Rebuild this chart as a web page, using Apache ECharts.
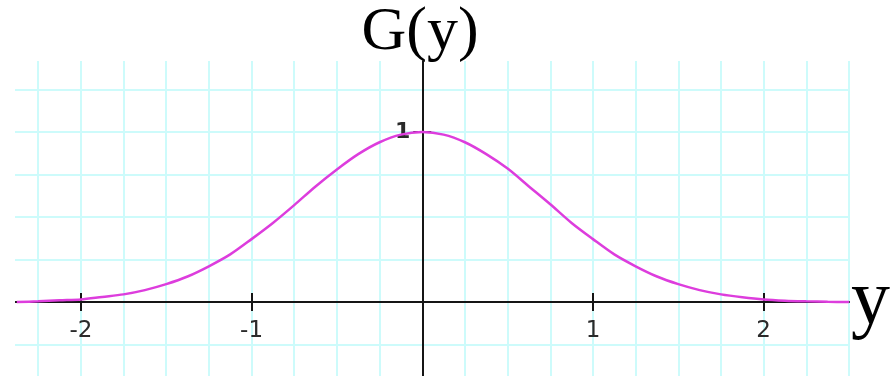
<!DOCTYPE html>
<html>
<head>
<meta charset="utf-8">
<script src="https://cdn.jsdelivr.net/npm/echarts@6/dist/echarts.min.js"></script>
<style>
  html, body { margin: 0; padding: 0; background: #fff; }
  #chart { width: 892px; height: 376px; }
</style>
</head>
<body>
<div id="chart"></div>
<script>
// y positions and G(y) values
const yValues = [-2.375, -2.25, -2.125, -2, -1.875, -1.75, -1.625, -1.5, -1.375, -1.25, -1.125, -1,
  -0.875, -0.75, -0.625, -0.5, -0.375, -0.25, -0.125, 0,
  0.125, 0.25, 0.375, 0.5, 0.625, 0.75, 0.875, 1, 1.125, 1.25, 1.375, 1.5,
  1.625, 1.75, 1.875, 2, 2.125, 2.25, 2.375, 2.5];
const gValues = [0, 0.004, 0.01, 0.015, 0.03, 0.045, 0.07, 0.105, 0.15, 0.21, 0.28, 0.37,
  0.465, 0.57, 0.68, 0.78, 0.87, 0.94, 0.985, 1,
  0.985, 0.94, 0.87, 0.785, 0.68, 0.575, 0.465, 0.37, 0.28, 0.21, 0.15, 0.105,
  0.07, 0.045, 0.028, 0.015, 0.008, 0.004, 0.001, 0];
const xTicks = [-2, -1, 1, 2];
const yTicks = [1];

const axisColor = "#151515";
const gridColor = "#cdfbfb";
const labelFont = { fontFamily: "DejaVu Sans", fontSize: 23, color: "#2a2a2a" };

const chart = echarts.init(document.getElementById("chart"), null, { renderer: "canvas" });

// plot rect: y=-2.5..2.5 across, G=-0.5..1.418 down; x axis sits where G=0, y axis where y=0
const base = { outerBoundsMode: "none", containLabel: false };
const plotRect = { ...base, left: -4.5, right: 43, top: 61, bottom: -11 };
const xAxisRect = { ...base, left: -4.5, right: 43, top: 61, bottom: 74 };
const yAxisRect = { ...base, left: 422.25, right: 43, top: 61, bottom: -11 };
const tickStyle = { color: axisColor, width: 2 };

const off = { axisLine: { show: false }, axisTick: { show: false }, axisLabel: { show: false }, splitLine: { show: false } };
function xAxisFor(gridIndex, extra) {
  return { type: "value", min: -2.5, max: 2.5, gridIndex, ...off, ...extra };
}
function yAxisFor(gridIndex, extra) {
  return { type: "value", min: -0.5, max: 1.418, gridIndex, ...off, ...extra };
}

chart.setOption({
  animation: false,
  grid: [plotRect, xAxisRect, xAxisRect, yAxisRect, yAxisRect],
  xAxis: [
    xAxisFor(0, { interval: 0.25, splitLine: { show: true, lineStyle: { color: gridColor, width: 2 } } }),
    xAxisFor(1, {
      axisLine: { show: true, onZero: false, lineStyle: { color: axisColor, width: 2 } },
      axisTick: { show: true, customValues: xTicks, length: 9, lineStyle: tickStyle },
      axisLabel: { show: true, customValues: xTicks, margin: 18, ...labelFont },
    }),
    xAxisFor(2, {
      axisLine: { show: false, onZero: false },
      axisTick: { show: true, inside: true, customValues: xTicks, length: 9, lineStyle: tickStyle },
    }),
    xAxisFor(3, {}),
    xAxisFor(4, {}),
  ],
  yAxis: [
    yAxisFor(0, { interval: 0.25, splitLine: { show: true, showMaxLine: false, lineStyle: { color: gridColor, width: 2 } } }),
    yAxisFor(1, {}),
    yAxisFor(2, {}),
    yAxisFor(3, {
      axisLine: { show: true, onZero: false, lineStyle: { color: axisColor, width: 2 } },
      axisTick: { show: true, customValues: yTicks, length: 9, lineStyle: tickStyle },
      axisLabel: { show: true, customValues: yTicks, margin: 12, ...labelFont, fontSize: 22, fontWeight: "bold" },
    }),
    yAxisFor(4, {
      axisLine: { show: false, onZero: false },
      axisTick: { show: true, inside: true, customValues: yTicks, length: 9, lineStyle: tickStyle },
    }),
  ],
  graphic: [
    {
      type: "rect",
      z: 1,
      shape: { x: 0, y: 0, width: 15, height: 376 },
      style: { fill: "#fff" },
    },
    {
      type: "text",
      x: 420,
      y: 2,
      style: { text: "G(y)", font: "62px 'Liberation Serif'", fill: "#000", align: "center", verticalAlign: "top" },
    },
    {
      type: "text",
      x: 851,
      y: 264,
      style: { text: "y", font: "78px 'Liberation Serif'", fill: "#000", align: "left", verticalAlign: "top" },
    },
  ],
  series: [
    {
      type: "line",
      xAxisIndex: 0,
      yAxisIndex: 0,
      z: 5,
      smooth: 0.3,
      symbol: "none",
      lineStyle: { color: "#dd3ddd", width: 2.5 },
      data: yValues.map((v, i) => [v, gValues[i]]),
    },
  ],
});
</script>
</body>
</html>
